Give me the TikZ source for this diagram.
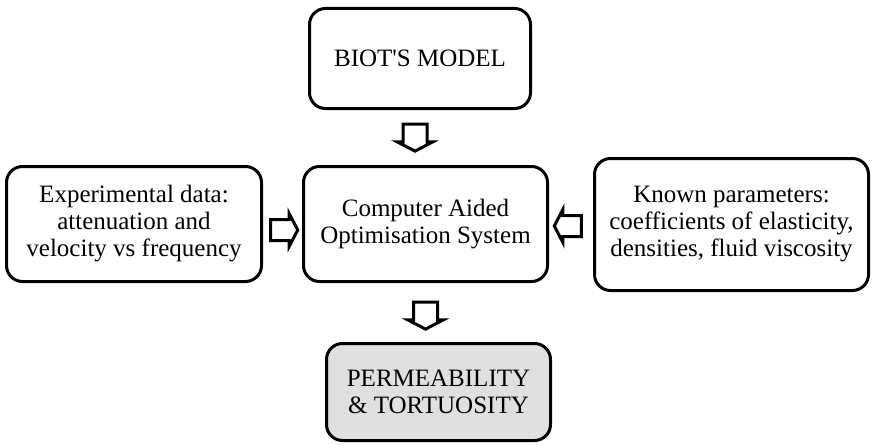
\documentclass[tikz,border=0pt]{standalone}
\usepackage{fontspec}
\setmainfont{Liberation Serif}
\usetikzlibrary{shapes.arrows}
\usetikzlibrary{positioning}

\begin{document}
\begin{tikzpicture}[x=1pt, y=-1pt]
	\tikzstyle{box}=[draw, line width=3pt, rounded corners=16pt, align=center,
	                 font=\fontsize{25}{27}\selectfont, inner sep=2pt];
	\tikzstyle{blockarrow}=[single arrow, draw, line width=3pt, inner sep=0pt,
	                 single arrow tip angle=125, single arrow head extend=6pt,
	                 minimum height=27pt];
	\useasboundingbox (0,0) rectangle (874,444);
	\node[box, minimum width=221pt, minimum height=100pt] (biot) at (420,58.5) {BIOT\textquotesingle S MODEL};
	\node[box, minimum width=244pt, minimum height=115pt] (cas) at (425.5,224) {Computer Aided\\Optimisation System};
	\node[box, minimum width=255pt, minimum height=115pt] (expt) at (134,224) {Experimental data:\\attenuation and\\velocity vs frequency};
	\node[box, minimum width=274pt, minimum height=132pt] (known) at (731.5,224.5) {Known parameters:\\coefficients of elasticity,\\densities, fluid viscosity};
	\node[box, fill=black!12, minimum width=224pt, minimum height=97pt] (perm) at (438.5,392) {PERMEABILITY\\\& TORTUOSITY};
	% block arrows between the boxes
	\node[blockarrow, rotate=-90] (a1) at (415,134.5) {\rule{0pt}{21pt}};
	\node[blockarrow] (a2) at (281.5,230) {\rule{0pt}{18pt}};
	\node[blockarrow, rotate=180] (a3) at (570.5,226) {\rule{0pt}{18pt}};
	\node[blockarrow, rotate=-90] (a4) at (425.5,312.5) {\rule{0pt}{21pt}};
\end{tikzpicture}
\end{document}
